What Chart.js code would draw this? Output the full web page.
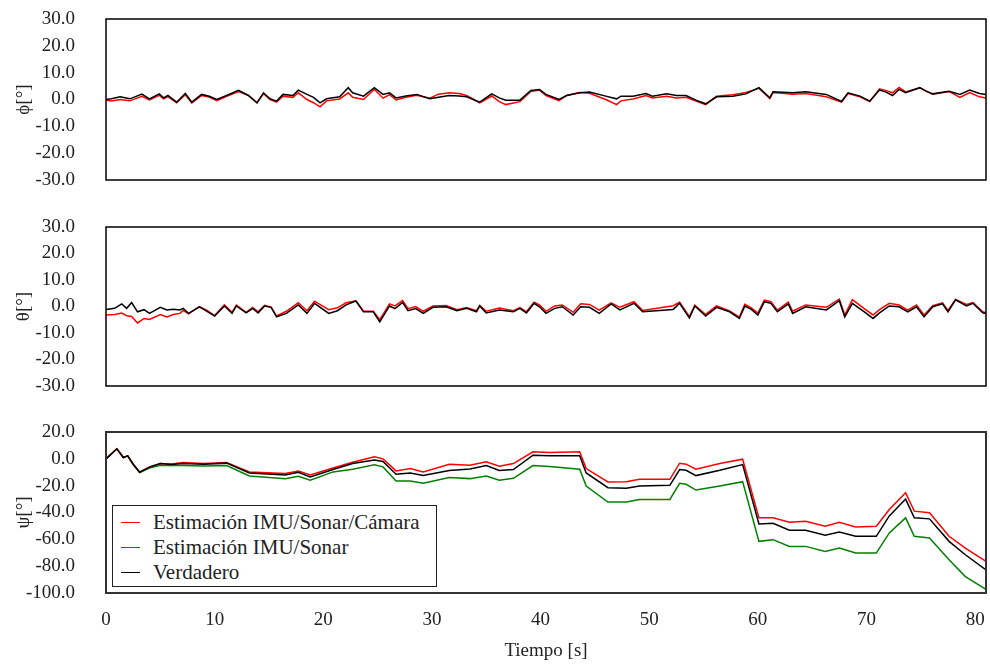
<!DOCTYPE html>
<html>
<head>
<meta charset="utf-8">
<script src="https://cdn.jsdelivr.net/npm/chart.js@4/dist/chart.umd.min.js"></script>
<style>
    body { margin: 0; background: #fff; }
    #wrap { position: relative; width: 990px; height: 666px; }
    canvas { position: absolute; left: 0; }
    #legend {
        position: absolute; left: 112px; top: 505px; width: 323px; height: 80px;
        border: 1.5px solid #222; background: #fff;
        font-family: "Liberation Serif", serif; font-size: 21px; color: #222;
    }
    .row { position: absolute; left: 0; height: 25px; line-height: 25px; white-space: nowrap; }
    .row span.sw { position: absolute; left: 8px; top: 12px; width: 19px; height: 0; border-top: 1.5px solid; }
    .row span.tx { position: absolute; left: 40px; }
</style>
</head>
<body>
<div id="wrap">
    <canvas id="phiChart" width="990" height="200" style="top:0"></canvas>
    <canvas id="thetaChart" width="990" height="200" style="top:207px"></canvas>
    <canvas id="psiChart" width="990" height="254" style="top:412px"></canvas>
    <div id="legend"></div>
</div>
<script>
const xTicks = [0, 10, 20, 30, 40, 50, 60, 70, 80];
const angleTicks = [-30, -20, -10, 0, 10, 20, 30];
const psiTicks = [-100, -80, -60, -40, -20, 0, 20];

// roll (phi)
const phiT = [0, 0.5, 1.3, 2.2, 3.3, 4.0, 4.9, 5.3, 5.7, 6.5, 7.3, 7.9, 8.8, 9.5, 10.2, 11.1, 12.2, 13.1, 13.9, 14.5,
    15.1, 15.7, 16.3, 17.2, 17.7, 18.5, 19.1, 19.7, 20.3, 21.5, 22.3, 22.7, 23.7, 24.7, 25.5, 26.1, 26.7, 27.6, 28.6, 29.8,
    30.6, 31.6, 32.5, 33.2, 34.4, 35.5, 36.2, 36.8, 38.1, 39.1, 39.9, 40.5, 41.7, 42.4, 43.6, 44.5, 46.0, 47.0, 47.4, 48.5,
    49.7, 50.3, 51.6, 52.5, 53.4, 54.3, 55.2, 56.2, 57.7, 58.9, 60.1, 61.1, 61.4, 63.2, 64.4, 66.3, 67.7, 68.3, 69.4, 70.3,
    71.2, 71.8, 72.4, 73.0, 73.6, 74.9, 75.5, 76.1, 77.6, 78.6, 79.5, 80.4, 81];
const phiVerdadero = [0, 0.3, 1, 0.25, 2, 0.25, 2.1, 0.6, 1.5, -1, 2.25, -1, 1.9, 1.2, 0, 1.5, 3.4, 1.5, -1.25, 2.5,
    0.25, -0.6, 1.9, 1.5, 3.5, 1.9, 0.8, -1.25, 0.25, 1, 4.4, 2.5, 1.25, 4.4, 1.9, 2.5, 0.6, 1.3, 1.9, 0.25,
    0.8, 1.5, 1.3, 1, -1, 2.1, 0.6, -0.25, -0.25, 3.4, 3.75, 1.9, 0, 1.5, 2.5, 2.75, 1.25, 0.25, 1.25, 1.25,
    2.25, 1.25, 2.1, 1.5, 1.5, -0.25, -1.6, 1, 1.25, 2.1, 4.4, 0.6, 2.9, 2.5, 2.9, 1.9, -0.75, 2.5, 1.25, -0.6,
    3.5, 2.75, 1.5, 3.75, 2.5, 4.4, 3.1, 2.1, 3.1, 1.9, 3.5, 2.25, 1.9];
const phiCamara = [-0.3, -0.6, 0, -0.5, 1.2, -0.2, 1.6, 0.2, 1.1, -1.2, 1.8, -1.3, 1.5, 0.9, -0.4, 1.2, 3, 1.6, -1.2, 2.2,
    0, -1, 1.2, 0.8, 2.5, 0, -1.2, -2.75, -0.5, 0.2, 2.5, 0.8, 0, 3.8, 0.5, 1.8, -0.2, 0.8, 1.6, 0.5,
    2, 2.5, 2.2, 1.5, -1.3, 1.3, -0.8, -1.9, -0.8, 3, 3.5, 1.5, -0.4, 1.5, 2.6, 2.3, 0, -1.9, -0.5, 0.2,
    1.5, 0.6, 1.2, 0.6, 0.8, -0.6, -1.9, 1.2, 1.8, 2.6, 4.2, 0.4, 2.6, 2.0, 2.2, 1.0, -1.0, 2.2, 1.0, -0.8,
    4.0, 3.3, 2.5, 4.5, 2.8, 4.4, 3.0, 2.0, 3.0, 0.8, 2.6, 1.0, 0.6];

// pitch (theta)
const thetaT = [0, 0.8, 1.45, 1.9, 2.36, 2.9, 3.5, 4.0, 5.0, 5.6, 6.2, 6.8, 7.1, 7.6, 8.6, 9.3, 10.0, 10.9, 11.6, 12.0,
    12.9, 13.5, 14.0, 14.6, 15.2, 15.7, 16.6, 17.7, 18.5, 19.2, 20.5, 21.3, 22.1, 23.0, 23.7, 24.6, 25.2, 26.1, 26.6, 27.3,
    27.8, 28.5, 29.2, 30.1, 31.3, 32.3, 33.2, 34.1, 34.4, 35.0, 36.2, 37.5, 38.1, 38.7, 39.4, 39.9, 40.5, 41.3, 42.0, 43.0,
    43.7, 44.5, 45.4, 46.5, 47.3, 48.6, 49.4, 52.2, 52.8, 53.7, 54.2, 55.2, 56.2, 57.4, 58.3, 58.8, 59.4, 60.0, 60.6, 61.2,
    61.8, 62.8, 63.2, 64.4, 66.3, 67.5, 68.0, 68.7, 69.8, 70.6, 71.2, 72.1, 73.0, 73.8, 74.6, 75.3, 76.1, 77.0, 77.5, 78.2,
    79.2, 79.8, 80.7, 81];
const thetaVerdadero = [-1.1, -0.7, 1, -0.7, 1.5, -2, -1.2, -2.6, -0.3, -1.3, -1.0, -1.3, -0.7, -2.6, -0.1, -1.8, -3.6, 0.2, -2.6, 0.2,
    -2.4, -0.7, -2.4, 0.2, -0.3, -3.9, -2.6, 0.6, -2.6, 1.2, -2.6, -1.6, 0.6, 2.1, -2, -2, -5.8, 0.2, -0.8, 1.5,
    -1.6, -0.8, -2.6, -0.3, -0.1, -1.6, -0.7, -2, 0.2, -2.4, -1.3, -2, -0.7, -2.4, 1.2, -0.1, -2.6, -0.7, -0.1, -3.2,
    -0.1, -0.3, -2.6, 1.0, -1.3, 1.2, -2, -1.1, 1.2, -4.3, 0.2, -3.6, -0.3, -2, -4.5, 0.2, -1.1, -3.2, 1.8, 1.2,
    -2, 1.0, -2.6, -0.1, -1.3, 2.2, -3.9, 1.2, -2, -4.5, -2.4, 0.2, -0.1, -2, -0.1, -3.9, -0.1, 1.0, -2, 2.5,
    0.2, 1.2, -2.4, -2.6];
const thetaCamara = [-3.2, -3.0, -2.5, -3.5, -3.8, -6.2, -4.5, -4.9, -3.0, -3.9, -3.0, -2.6, -1.5, -2.8, 0, -1.5, -3.4, 0.6, -2.2, 0.5,
    -2.2, -0.4, -2.0, 0.4, -0.2, -3.6, -1.8, 1.4, -1.6, 2.0, -1.2, -0.5, 1.4, 2.1, -1.8, -1.8, -5.0, 1.0, 0.2, 2.2,
    -0.8, 0, -1.8, 0.2, 0.4, -1.2, -0.4, -1.6, 0.4, -1.8, -0.6, -1.6, -0.4, -2.0, 1.6, 0.6, -1.8, 0.2, 0.6, -2.2,
    1.0, 0.8, -1.4, 1.4, -0.3, 1.8, -1.5, 0.3, 1.6, -3.8, 0.5, -3.0, 0.2, -1.7, -4.0, 0.8, -0.5, -2.5, 2.4, 1.8,
    -1.4, 1.6, -1.8, 0.6, -0.3, 2.8, -3.2, 2.6, -0.8, -3.2, -1.2, 1.2, 0.6, -1.4, 0.6, -3.2, 0.3, 1.4, -1.5, 2.7,
    0.8, 1.5, -2.0, -2.4];

// yaw (psi)
const psiT = [0, 1.0, 1.6, 2.0, 2.5, 3.1, 4.0, 5.0, 6.0, 7.1, 9.0, 11.1, 13.2, 16.5, 17.7, 18.8, 20.9, 22.7, 24.7, 25.5,
    26.7, 28.0, 29.2, 31.6, 33.5, 35.0, 36.2, 37.5, 39.3, 40.8, 43.6, 44.2, 46.2, 47.9, 49.1, 51.9, 52.8, 53.4, 54.3, 56.5,
    58.6, 60.1, 61.4, 62.9, 64.4, 66.2, 67.5, 69.0, 70.9, 72.1, 73.6, 74.4, 75.8, 77.6, 79.1, 81.0];
const psiCamara = [0, 7.5, 1, 2.2, -4, -10, -6, -3.5, -3.8, -2.75, -3.5, -2.75, -9.75, -11, -9, -12, -6.9, -2.5, 1.5, 0,
    -9, -7.25, -9.75, -4, -4.75, -2.25, -5.5, -3.5, 5.25, 4.75, 5.25, -7.25, -17.25, -17, -15.25, -15.25, -3.25, -4, -7.75, -3.5,
    -0.25, -44, -44, -47.25, -46.5, -50.25, -47.25, -50.75, -50.25, -37.75, -25.25, -39, -40.25, -57.75, -66.5, -76.5];
const psiSonar = [0, 7.5, 1, 2.2, -4, -10.2, -6.8, -4.75, -5, -5, -5.3, -5, -12.75, -14.75, -13, -16, -9.75, -7.75, -4.5, -6,
    -16.5, -16.5, -18.25, -14, -14.75, -12.75, -16, -14.5, -5, -5.75, -7.75, -20.25, -32.25, -32.25, -30.25, -30.25, -18.25, -19, -23.25, -20.25,
    -17, -61.5, -60.25, -65.25, -65.25, -69, -66.5, -70.25, -70.25, -55.25, -44, -57.75, -59, -75.25, -87.75, -97.25];
const psiVerdadero = [0, 7.5, 1, 2.2, -4, -10, -6.2, -3.5, -4.2, -3.5, -4, -3.2, -10.5, -12, -10, -13.5, -8, -3.5, -0.9, -2,
    -11.5, -10.5, -12.5, -8.75, -7.5, -5, -8.75, -8, 2.75, 2.25, 2.25, -10.5, -21.5, -22, -20.25, -19.75, -8, -8.5, -12.5, -8.5,
    -4.25, -48.5, -48, -53.25, -53.25, -57, -54.5, -57.75, -57.75, -42.5, -30, -44, -44.75, -61.5, -71.5, -82.75];

const seriesNames = ['Estimación IMU/Sonar/Cámara', 'Estimación IMU/Sonar', 'Verdadero'];
const seriesColors = ['#ff0000', '#008000', '#000000'];

const FONT = '"Liberation Serif", serif';
const TEXT = '#222';

function pts(t, v) {
    return t.map((x, i) => ({ x: x, y: v[i] }));
}

function line(label, color, t, v, order) {
    return {
        label: label,
        data: pts(t, v),
        borderColor: color,
        borderWidth: 1.5,
        pointRadius: 0,
        tension: 0,
        fill: false,
        order: order
    };
}

// box round the plot area
const framePlugin = {
    id: 'frame',
    afterDatasetsDraw(chart, args, opts) {
        const a = chart.chartArea;
        const ctx = chart.ctx;
        ctx.save();
        ctx.strokeStyle = opts.color || '#000';
        ctx.lineWidth = opts.width || 1.5;
        ctx.strokeRect(a.left, a.top, a.right - a.left, a.bottom - a.top);
        ctx.restore();
    }
};

function makeChart(id, datasets, yTitle, yMin, yMax, yTicks, showX, pad, frame) {
    const ctx = document.getElementById(id).getContext('2d');
    return new Chart(ctx, {
        type: 'line',
        data: { datasets: datasets },
        plugins: [framePlugin],
        options: {
            responsive: false,
            animation: false,
            layout: { padding: pad },
            plugins: {
                legend: { display: false },
                tooltip: { enabled: false },
                frame: frame
            },
            scales: {
                x: {
                    type: 'linear',
                    min: 0,
                    max: 81,
                    display: showX,
                    grid: { display: true, drawOnChartArea: false, drawTicks: true, tickLength: 12, color: 'rgba(0,0,0,0)' },
                    border: { display: false },
                    afterBuildTicks: s => { s.ticks = xTicks.map(v => ({ value: v })); },
                    ticks: {
                        autoSkip: false,
                        maxRotation: 0,
                        padding: 4,
                        color: TEXT,
                        font: { family: FONT, size: 19 }
                    },
                    title: {
                        display: showX,
                        text: 'Tiempo [s]',
                        color: TEXT,
                        font: { family: FONT, size: 19 },
                        padding: { top: 4, bottom: 4 }
                    },
                    afterFit: s => { if (showX) s.height = 73; }
                },
                y: {
                    min: yMin,
                    max: yMax,
                    grid: { display: true, drawOnChartArea: false, drawTicks: true, tickLength: 27, color: 'rgba(0,0,0,0)' },
                    border: { display: false },
                    afterBuildTicks: s => { s.ticks = yTicks.map(v => ({ value: v })); },
                    ticks: {
                        autoSkip: false,
                        padding: 4,
                        color: TEXT,
                        font: { family: FONT, size: 19 },
                        callback: v => v.toFixed(1)
                    },
                    title: {
                        display: true,
                        text: yTitle,
                        color: TEXT,
                        font: { family: FONT, size: 19 },
                        padding: { top: 13, bottom: 0 }
                    },
                    afterFit: s => { s.width = 106; }
                }
            }
        }
    });
}

makeChart('phiChart', [
    line(seriesNames[2], seriesColors[2], phiT, phiVerdadero, 0),
    line(seriesNames[0], seriesColors[0], phiT, phiCamara, 1)
], 'ϕ[°]', -30, 30, angleTicks, false, { left: 0, right: 4, top: 19, bottom: 20 }, { color: '#000', width: 1.5 });

makeChart('thetaChart', [
    line(seriesNames[2], seriesColors[2], thetaT, thetaVerdadero, 0),
    line(seriesNames[0], seriesColors[0], thetaT, thetaCamara, 1)
], 'θ[°]', -30, 30, angleTicks, false, { left: 0, right: 4, top: 20, bottom: 21 }, { color: '#000', width: 1.5 });

makeChart('psiChart', [
    line(seriesNames[2], seriesColors[2], psiT, psiVerdadero, 0),
    line(seriesNames[0], seriesColors[0], psiT, psiCamara, 1),
    line(seriesNames[1], seriesColors[1], psiT, psiSonar, 2)
], 'ψ[°]', -100, 20, psiTicks, true, { left: 0, right: 4, top: 20, bottom: 0 }, { color: '#333', width: 2 });

// legend of the bottom panel
const legend = document.getElementById('legend');
seriesNames.forEach((name, i) => {
    const row = document.createElement('div');
    row.className = 'row';
    row.style.top = (4 + i * 25) + 'px';
    row.innerHTML = `<span class="sw" style="border-color:${seriesColors[i]}"></span><span class="tx">${name}</span>`;
    legend.appendChild(row);
});
</script>
</body>
</html>
